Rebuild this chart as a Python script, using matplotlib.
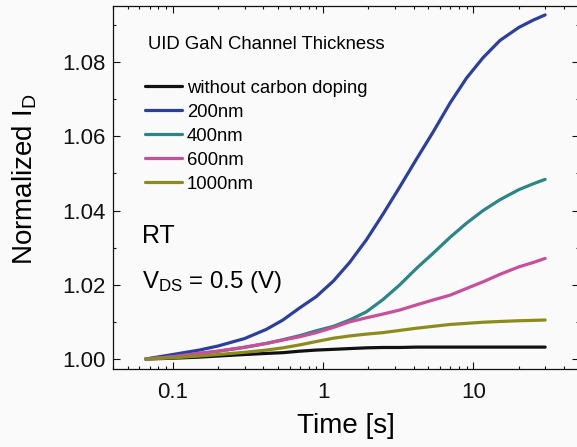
import matplotlib
matplotlib.use("Agg")
import matplotlib.pyplot as plt
from matplotlib.ticker import FixedLocator, FuncFormatter, LogLocator, NullFormatter, MultipleLocator

plt.rcParams['font.family'] = ['Liberation Sans', 'DejaVu Sans']
plt.rcParams['mathtext.fontset'] = 'custom'
plt.rcParams['mathtext.rm'] = 'Liberation Sans'
plt.rcParams['mathtext.it'] = 'Liberation Sans:italic'

time_s = [0.066, 0.1, 0.15, 0.2, 0.3, 0.42, 0.54, 0.7, 0.9, 1.17, 1.5, 1.94,
          2.5, 3.24, 4.2, 5.4, 7.0, 9.0, 11.6, 15, 20, 25, 30]

no_carbon = [1.0000, 1.0002, 1.0005, 1.0008, 1.0012, 1.0015, 1.0017, 1.0021, 1.0024, 1.0026,
             1.0028, 1.0030, 1.0031, 1.0031, 1.0032, 1.0032, 1.0032, 1.0032, 1.0032, 1.0032,
             1.0032, 1.0032, 1.0032]
nm200 = [1.0000, 1.0012, 1.0024, 1.0035, 1.0055, 1.0080, 1.0105, 1.0138, 1.0168, 1.0210,
         1.0260, 1.0321, 1.0390, 1.0464, 1.0540, 1.0612, 1.0690, 1.0757, 1.0812, 1.0858,
         1.0893, 1.0913, 1.0927]
nm400 = [1.0000, 1.0006, 1.0015, 1.0021, 1.0031, 1.0042, 1.0052, 1.0063, 1.0076, 1.0088,
         1.0105, 1.0127, 1.0160, 1.0200, 1.0245, 1.0285, 1.0328, 1.0366, 1.0400, 1.0429,
         1.0456, 1.0472, 1.0484]
nm600 = [1.0000, 1.0006, 1.0015, 1.0021, 1.0032, 1.0042, 1.0051, 1.0060, 1.0071, 1.0085,
         1.0100, 1.0111, 1.0121, 1.0132, 1.0146, 1.0159, 1.0172, 1.0190, 1.0208, 1.0228,
         1.0248, 1.0260, 1.0271]
nm1000 = [1.0000, 1.0003, 1.0008, 1.0012, 1.0018, 1.0024, 1.0030, 1.0038, 1.0047, 1.0056,
          1.0062, 1.0067, 1.0071, 1.0077, 1.0083, 1.0088, 1.0093, 1.0096, 1.0099, 1.0101,
          1.0103, 1.0104, 1.0105]

labels = ['without carbon doping', '200nm', '400nm', '600nm', '1000nm']
colors = ['#111111', '#2b3f9e', '#2b8686', '#c8509b', '#8c8c1c']
series = [no_carbon, nm200, nm400, nm600, nm1000]

y_ticks = [1.00, 1.02, 1.04, 1.06, 1.08]
x_ticks = [0.1, 1, 10]
x_ticklabels = ['0.1', '1', '10']

bg = '#fafafa'
fig = plt.figure(figsize=(5.77, 4.47), dpi=100, facecolor=bg)
ax = fig.add_axes([113/577, 78/447, 465.5/577, 363/447], facecolor=bg)

for vals, lab, c in zip(series, labels, colors):
    ax.plot(time_s, vals, color=c, lw=2.3, label=lab, solid_capstyle='round',
            solid_joinstyle='round')

ax.set_xscale('log')
ax.set_xlim(0.04, 50)
ax.set_ylim(0.9973, 1.0951)

ax.xaxis.set_major_locator(FixedLocator(x_ticks))
ax.xaxis.set_major_formatter(FuncFormatter(lambda v, p: x_ticklabels[x_ticks.index(v)] if v in x_ticks else ''))
ax.xaxis.set_minor_locator(LogLocator(base=10, subs=range(2, 10), numticks=20))
ax.xaxis.set_minor_formatter(NullFormatter())
ax.yaxis.set_major_locator(FixedLocator(y_ticks))
ax.yaxis.set_major_formatter(FuncFormatter(lambda v, p: f'{v:.2f}'))
ax.yaxis.set_minor_locator(MultipleLocator(0.01))

ax.tick_params(which='both', direction='in', top=True, right=True, width=0.8, colors='#111111')
ax.tick_params(which='major', length=5, labelsize=16)
ax.tick_params(axis='x', which='major', pad=9)
ax.tick_params(axis='y', which='major', pad=5)
ax.tick_params(which='minor', length=2.5)
for s in ax.spines.values():
    s.set_linewidth(0.9)
    s.set_color('#111111')

ax.set_xlabel('Time [s]', fontsize=20)
ax.set_ylabel(r'Normalized I$_\mathregular{D}$', fontsize=20)
ax.xaxis.set_label_coords(0.5, -0.122)
ax.yaxis.set_label_coords(-0.16, 0.522)

ax.text(0.0752, 0.895, 'UID GaN Channel Thickness', transform=ax.transAxes,
        fontsize=13.3, va='center', ha='left')
ax.text(0.0623, 0.366, 'RT', transform=ax.transAxes, fontsize=18, va='center', ha='left')
ax.text(0.0623, 0.223, r'V$_\mathregular{DS}$ = 0.5 (V)', transform=ax.transAxes,
        fontsize=17.3, va='baseline', ha='left')

leg = ax.legend(loc='upper left', bbox_to_anchor=(0.0687, 0.797), frameon=False,
                fontsize=13.3, handlelength=2.0, handletextpad=0.27, labelspacing=0.38,
                borderpad=0, borderaxespad=0)

fig.savefig('out.png', dpi=100, facecolor=bg)
